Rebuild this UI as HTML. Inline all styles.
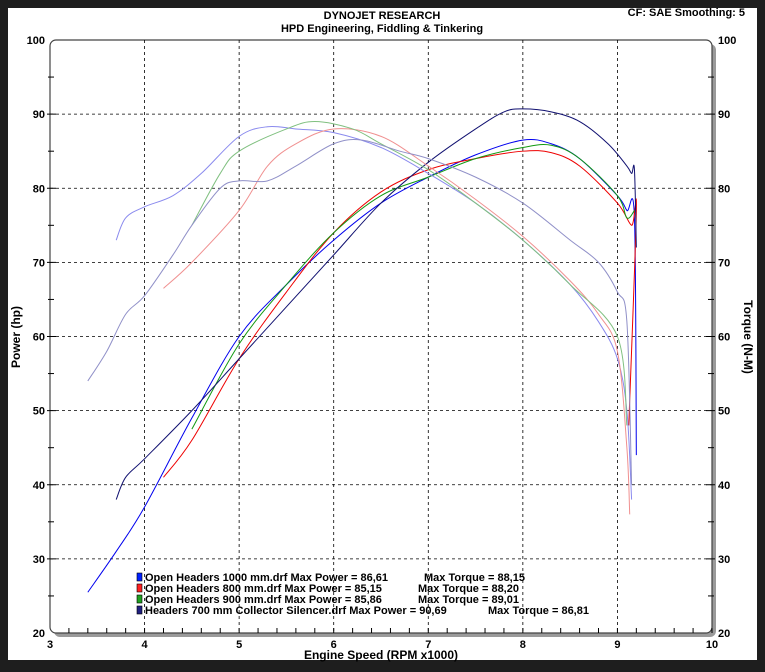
<!DOCTYPE html>
<html><head><meta charset="utf-8"><style>
body{margin:0;background:#1e1e1e;width:765px;height:672px;overflow:hidden;font-family:"Liberation Sans",sans-serif}
svg{position:absolute;left:0;top:0}
</style></head><body>
<svg id="s" width="765" height="672" xmlns="http://www.w3.org/2000/svg" font-family="Liberation Sans, sans-serif">
<rect x="8" y="8" width="749" height="652" fill="#fff"/>
<rect x="54" y="44" width="662" height="593" rx="6" fill="#9a9a9a"/>
<rect x="50" y="40" width="662" height="593" rx="6" fill="#fff" stroke="#444" stroke-width="1.2"/>
<g id="grid" stroke="#000" stroke-width="0.8" stroke-dasharray="3,3"></g>
<g id="ticks" stroke="#000" stroke-width="1"></g>
<g id="lab" font-size="11" font-weight="bold" fill="#000"></g>
<g id="curves" fill="none" stroke-width="1"></g>
<text x="382" y="19" font-size="11" font-weight="bold" text-anchor="middle">DYNOJET RESEARCH</text>
<text x="382" y="32" font-size="11" font-weight="bold" text-anchor="middle">HPD Engineering, Fiddling &amp; Tinkering</text>
<text x="745" y="16" font-size="11" font-weight="bold" text-anchor="end">CF: SAE  Smoothing: 5</text>
<text x="381" y="659" font-size="12" font-weight="bold" text-anchor="middle">Engine Speed (RPM x1000)</text>
<text transform="translate(20,337) rotate(-90)" font-size="12" font-weight="bold" text-anchor="middle">Power (hp)</text>
<text transform="translate(744,337) rotate(90)" font-size="12" font-weight="bold" text-anchor="middle">Torque (N-M)</text>
<g font-size="11" font-weight="bold">
<rect x="137" y="573" width="5" height="8" fill="#0020ff" stroke="#000" stroke-width="0.6"/>
<text x="145" y="581">Open Headers 1000 mm.drf Max Power = 86,61</text><text x="424" y="581">Max Torque = 88,15</text>
<rect x="137" y="584" width="5" height="8" fill="#ff2020" stroke="#000" stroke-width="0.6"/>
<text x="145" y="592">Open Headers 800 mm.drf Max Power = 85,15</text><text x="418" y="592">Max Torque = 88,20</text>
<rect x="137" y="595" width="5" height="8" fill="#20a020" stroke="#000" stroke-width="0.6"/>
<text x="145" y="603">Open Headers 900 mm.drf Max Power = 85,86</text><text x="418" y="603">Max Torque = 89,01</text>
<rect x="137" y="606" width="5" height="8" fill="#202080" stroke="#000" stroke-width="0.6"/>
<text x="145" y="614">Headers 700 mm Collector Silencer.drf Max Power = 90,69</text><text x="488" y="614">Max Torque = 86,81</text>
</g>
</svg>
<script>
var NS="http://www.w3.org/2000/svg";
function X(r){return 50+(r-3)*94.57}function Y(v){return 40+(100-v)*7.4125}
function el(p,t,a,txt){var e=document.createElementNS(NS,t);for(var k in a)e.setAttribute(k,a[k]);if(txt!==undefined)e.textContent=txt;document.getElementById(p).appendChild(e);}
for(var r=4;r<=9;r++)el("grid","line",{x1:X(r),y1:40,x2:X(r),y2:633});
for(var v=30;v<=90;v+=10)el("grid","line",{x1:50,y1:Y(v),x2:712,y2:Y(v)});
for(var r=3.2;r<10;r+=0.2){el("ticks","line",{x1:X(r),y1:633,x2:X(r),y2:628});}
for(var v=25;v<100;v+=5){var l=(v%10==0)?6:4;el("ticks","line",{x1:50-l/2,y1:Y(v),x2:50+l,y2:Y(v)});el("ticks","line",{x1:712-l,y1:Y(v),x2:712+l/2,y2:Y(v)});}
for(var r=3;r<=10;r++)el("lab","text",{x:X(r),y:648,"text-anchor":"middle"},r);
for(var v=20;v<=100;v+=10){el("lab","text",{x:45,y:Y(v)+4,"text-anchor":"end"},v);el("lab","text",{x:718,y:Y(v)+4},v);}
function C(col,pts){var d="";var P=pts.map(function(p){return [X(p[0]),Y(p[1])]});
d="M"+P[0][0]+","+P[0][1];
for(var i=0;i<P.length-1;i++){var p0=P[i-1]||P[i],p1=P[i],p2=P[i+1],p3=P[i+2]||p2;
d+=" C"+(p1[0]+(p2[0]-p0[0])/6)+","+(p1[1]+(p2[1]-p0[1])/6)+" "+(p2[0]-(p3[0]-p1[0])/6)+","+(p2[1]-(p3[1]-p1[1])/6)+" "+p2[0]+","+p2[1];}
el("curves","path",{d:d,stroke:col});}
C("#0000ee",[[3.4,25.5],[3.7,31],[4,37],[4.5,49],[5,60],[5.5,67],[6,73],[6.5,78],[7,81.5],[7.5,84.5],[8,86.5],[8.3,86],[8.6,84],[9,79],[9.1,77],[9.18,76],[9.2,44]]);
C("#ee0000",[[4.2,41],[4.5,46],[5,57],[5.5,66],[6,74],[6.5,79.5],[7,82.5],[7.5,84],[8,85],[8.3,84.8],[8.6,83],[9,78],[9.15,75],[9.2,77],[9.12,48]]);
C("#119911",[[4.5,47.5],[5,59],[5.5,67],[6,74],[6.5,79],[7,81.5],[7.5,84],[8,85.5],[8.3,85.8],[8.6,84],[9,79],[9.1,76],[9.18,77]]);
C("#101070",[[3.7,38],[3.8,41],[4,43.5],[4.5,50],[5,57],[5.5,64],[6,71],[6.5,78],[7,83.5],[7.5,88],[7.8,90.3],[8,90.7],[8.3,90.3],[8.6,89],[8.9,86],[9.1,83],[9.15,82],[9.18,82.5],[9.2,72]]);
C("#8a8aee",[[3.7,73],[3.8,76],[4,77.5],[4.3,79],[4.6,82],[5,87],[5.3,88.3],[5.6,88],[6,87.5],[6.5,85.5],[7,82],[7.5,78],[8,73],[8.5,67],[8.8,62],[9,57],[9.1,50],[9.15,38]]);
C("#f09090",[[4.2,66.5],[4.5,70],[5,77],[5.3,83],[5.6,86],[6,88],[6.5,87],[7,83],[7.5,78.5],[8,73.5],[8.5,67.5],[8.8,63],[9,58],[9.1,45],[9.13,36]]);
C("#80c080",[[4.5,75],[4.8,82],[5,85],[5.5,88],[5.8,89],[6.2,88],[6.5,86],[7,82.5],[7.5,78],[8,73],[8.5,67],[9,60],[9.1,48]]);
C("#9090c8",[[3.4,54],[3.6,58],[3.8,63],[4,65.5],[4.3,71],[4.5,75],[4.8,80],[5,81],[5.3,81],[5.6,83],[6,86],[6.3,86.5],[6.7,85],[7,84],[7.5,81.5],[8,78],[8.5,73],[8.8,70],[9,66],[9.1,62],[9.15,40]]);
</script>
</body></html>
